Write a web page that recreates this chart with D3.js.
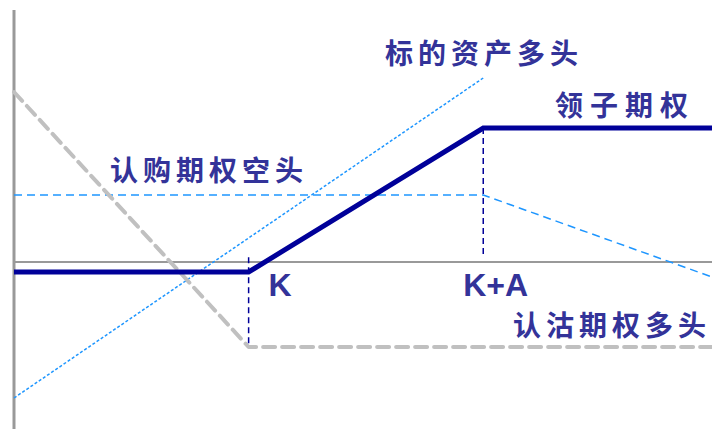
<!DOCTYPE html>
<html><head><meta charset="utf-8">
<script src="https://cdn.jsdelivr.net/npm/d3@7"></script>
<style>html,body{margin:0;padding:0;background:#fff;}svg{display:block;}</style>
</head><body>
<svg id="chart" width="712" height="429"></svg>
<script>
// Strike points (price units)
const strikes = [4, 8];              // K, K+A
const strikeLabels = ["K", "K+A"];
// Payoff series: [price, payoff]
const collar     = [[0, -0.25], [4, -0.25], [8, 3.35], [11.9, 3.35]];
const longPut    = [[0, 4.25], [4, -2.125], [11.9, -2.125]];
const longStock  = [[0, -3.4], [8, 4.6]];
const shortCall  = [[0, 1.675], [8, 1.675], [11.9, -0.375]];
const guideK     = [[4, 0.12], [4, -2.125]];
const guideKA    = [[8, 3.35], [8, 0.17]];
const seriesLabels = ["标的资产多头", "领子期权", "认购期权空头", "认沽期权多头"];

const W = 712, H = 429;
const x = d3.scaleLinear().domain([0, 11.9]).range([14, 712]);
const y = d3.scaleLinear().domain([-4.175, 6.55]).range([429, 0]);
const svg = d3.select("#chart");
const line = d3.line().x(d => x(d[0])).y(d => y(d[1]));

// axes
svg.append("line").attr("x1", x(0)).attr("x2", x(11.9)).attr("y1", y(0)).attr("y2", y(0))
  .attr("stroke", "#999").attr("stroke-width", 2);
svg.append("line").attr("x1", x(0)).attr("x2", x(0)).attr("y1", 10).attr("y2", H)
  .attr("stroke", "#999").attr("stroke-width", 3);

function path(data, stroke, width, dash) {
  const p = svg.append("path").datum(data).attr("d", line).attr("fill", "none")
    .attr("stroke", stroke).attr("stroke-width", width);
  if (dash) p.attr("stroke-dasharray", dash);
  return p;
}
path(longStock, "#1e96ff", 1.5, "3,2");
path(shortCall, "#1e96ff", 1.5, "8,5");
path(longPut, "#c0c0c0", 4, "12,7").attr("stroke-linecap", "round").attr("stroke-linejoin", "round");
path(guideK, "#000099", 1.5, "6,4");
path(guideKA, "#000099", 1.5, "6,4");
path(collar, "#000099", 5);

const txtColor = "#333399";
const cn = [
  {t: seriesLabels[0], x: 385, y: 64, ls: 5},
  {t: seriesLabels[1], x: 555, y: 116, ls: 7},
  {t: seriesLabels[2], x: 110, y: 181, ls: 5},
  {t: seriesLabels[3], x: 513, y: 336, ls: 5}
];
svg.selectAll("text.cn").data(cn).enter().append("text").attr("class", "cn")
  .attr("x", d => d.x).attr("y", d => d.y).text(d => d.t)
  .attr("font-family", "'Noto Sans CJK SC'").attr("font-size", 28).attr("font-weight", "bold")
  .attr("letter-spacing", d => d.ls).attr("fill", txtColor);

svg.selectAll("text.k").data(strikes).enter().append("text").attr("class", "k")
  .attr("x", (d, i) => x(d) + (i === 0 ? 20 : -20)).attr("y", 296)
  .text((d, i) => strikeLabels[i])
  .attr("font-family", "'Liberation Sans', Arial, sans-serif").attr("font-weight", "bold")
  .attr("font-size", 32).attr("fill", txtColor);
</script>
</body></html>
